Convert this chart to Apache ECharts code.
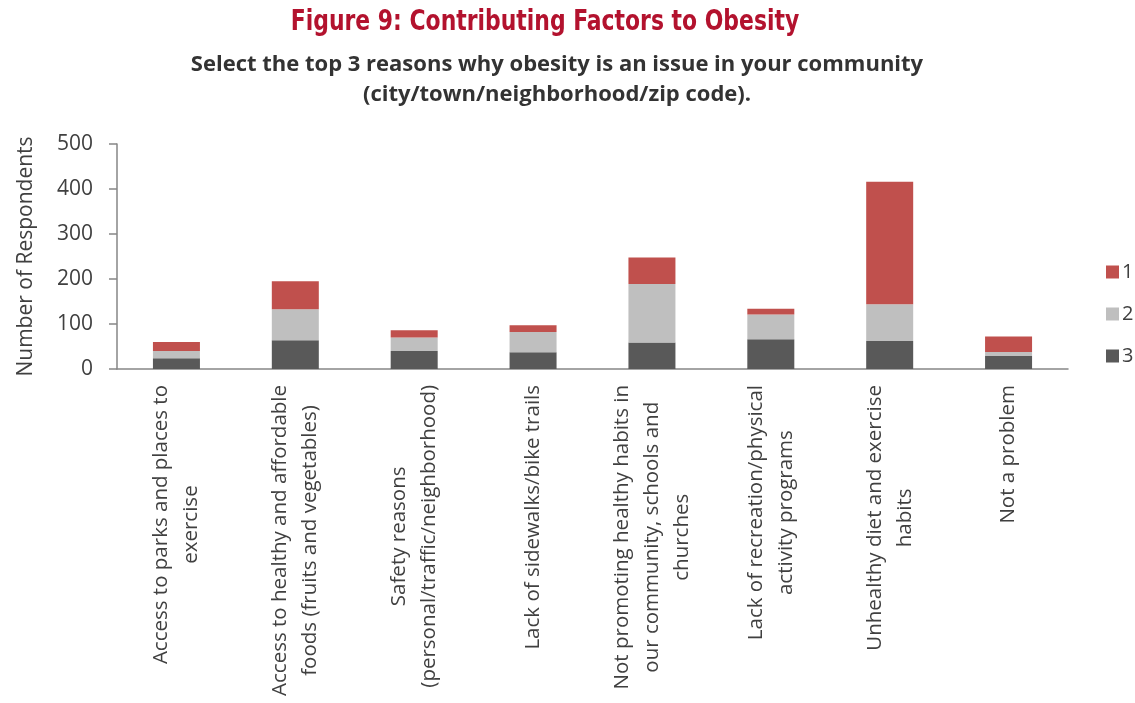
<!DOCTYPE html>
<html>
<head>
<meta charset="utf-8">
<script src="https://cdn.jsdelivr.net/npm/echarts@6/dist/echarts.min.js"></script>
<style>
  html, body { margin: 0; padding: 0; background: #fff; }
  #chart { width: 1135px; height: 703px; }
</style>
</head>
<body>
<div id="chart"></div>
<script>
// Survey reasons (x-axis categories), line breaks as printed under each bar
const categories = [
  'Access to parks and places to\nexercise',
  'Access to healthy and affordable\nfoods (fruits and vegetables)',
  'Safety reasons\n(personal/traffic/neighborhood)',
  'Lack of sidewalks/bike trails',
  'Not promoting healthy habits in\nour community, schools and\nchurches',
  'Lack of recreation/physical\nactivity programs',
  'Unhealthy diet and exercise\nhabits',
  'Not a problem'
];

// Respondent counts by rank given to each reason
const rank1 = [20, 62, 16, 15, 59, 13, 272, 34];
const rank2 = [16, 69, 30, 45, 130, 55, 82, 9];
const rank3 = [24, 64, 40, 37, 59, 66, 62, 29];

const yTicks = { min: 0, max: 500, interval: 100 };

const titleText = 'Figure 9: Contributing Factors to Obesity';
const subtitleText = 'Select the top 3 reasons why obesity is an issue in your community\n(city/town/neighborhood/zip code).';
const yAxisName = 'Number of Respondents';

const textColor = '#404040';
const axisColor = '#868686';

const chart = echarts.init(document.getElementById('chart'), null, { renderer: 'canvas' });

// Each line of a category label is centred under the others
const centeredLines = (v) => v.split('\n').map(l => '{c|' + l + '}').join('\n');

const barStyle = (color) => ({
  type: 'bar',
  stack: 'rank',
  barWidth: 47,
  itemStyle: { color: color },
  emphasis: { disabled: true }
});

chart.setOption({
  animation: false,
  // Condensed heading: a bold face narrowed horizontally
  graphic: [
    {
      type: 'text',
      x: 545,
      y: 22,
      scaleX: 0.84,
      silent: true,
      style: {
        text: titleText,
        font: 'bold 29px "DejaVu Sans Condensed", "DejaVu Sans", sans-serif',
        fill: '#B3122E',
        textAlign: 'center',
        textVerticalAlign: 'middle'
      }
    }
  ],
  title: {
    text: subtitleText,
    left: 552,
    top: 45,
    textAlign: 'center',
    textStyle: {
      fontFamily: '"Open Sans", sans-serif',
      fontWeight: 'bold',
      fontSize: 22,
      lineHeight: 30,
      color: '#333333'
    }
  },
  legend: {
    orient: 'vertical',
    left: 1101,
    top: 257,
    itemWidth: 13,
    itemHeight: 13,
    itemGap: 22,
    icon: 'rect',
    data: ['1', '2', '3'],
    textStyle: {
      fontFamily: '"Open Sans", sans-serif',
      fontSize: 20,
      color: textColor,
      padding: [0, 0, 0, -2]
    }
  },
  grid: {
    left: 117,
    right: 67,
    top: 144,
    bottom: 334,
    containLabel: false
  },
  xAxis: {
    type: 'category',
    data: categories,
    axisLine: { lineStyle: { color: axisColor, width: 1.5 } },
    axisTick: { show: false },
    axisLabel: {
      interval: 0,
      rotate: 90,
      margin: 16,
      formatter: centeredLines,
      rich: {
        c: {
          align: 'center',
          fontFamily: '"Open Sans", sans-serif',
          fontSize: 20.5,
          lineHeight: 30,
          color: textColor
        }
      }
    }
  },
  yAxis: {
    type: 'value',
    min: yTicks.min,
    max: yTicks.max,
    interval: yTicks.interval,
    name: yAxisName,
    nameLocation: 'middle',
    nameGap: 80,
    nameTextStyle: {
      fontFamily: '"Open Sans", sans-serif',
      fontSize: 21,
      color: textColor
    },
    axisLine: { show: true, lineStyle: { color: axisColor, width: 1.5 } },
    axisTick: { show: true, inside: false, length: 8, lineStyle: { color: axisColor, width: 1.5 } },
    axisLabel: {
      margin: 24,
      fontFamily: '"Open Sans", sans-serif',
      fontSize: 21,
      color: textColor
    },
    splitLine: { show: false }
  },
  series: [
    Object.assign({ name: '3', data: rank3 }, barStyle('#595959')),
    Object.assign({ name: '2', data: rank2 }, barStyle('#BFBFBF')),
    Object.assign({ name: '1', data: rank1 }, barStyle('#C0504D'))
  ]
});
</script>
</body>
</html>
